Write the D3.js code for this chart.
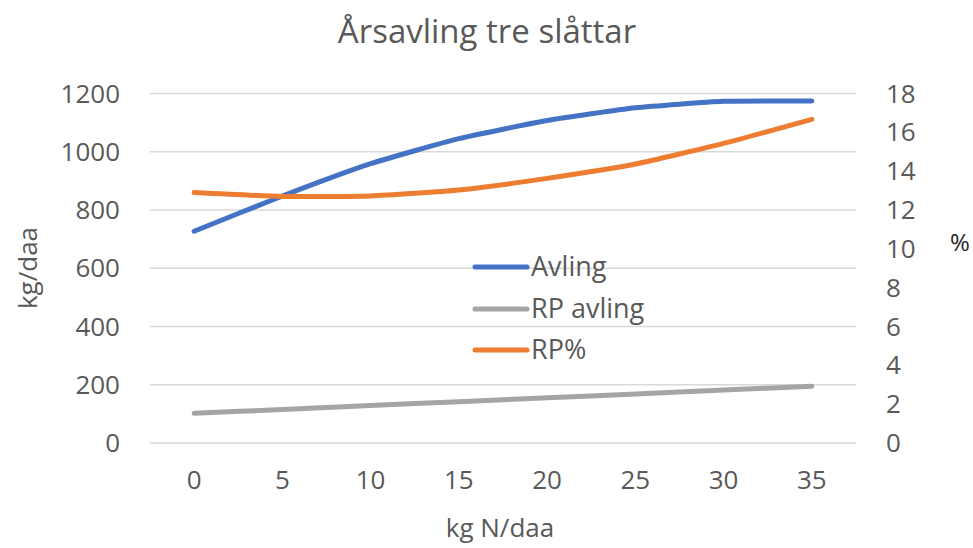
<!DOCTYPE html>
<html><head><meta charset="utf-8">
<script src="https://cdn.jsdelivr.net/npm/d3@7"></script>
<style>body{margin:0;background:#fff}svg{display:block}</style>
</head><body>
<script>
const categories = [0, 5, 10, 15, 20, 25, 30, 35];
const avling = [727, 848, 959, 1045, 1107, 1151, 1173, 1174];
const rpAvling = [102, 115, 129, 142, 155, 168, 182, 195];
const rpPct = [12.9, 12.7, 12.72, 13.03, 13.63, 14.37, 15.43, 16.67];
const leftTicks = [0, 200, 400, 600, 800, 1000, 1200];
const rightTicks = [0, 2, 4, 6, 8, 10, 12, 14, 16, 18];
const seriesNames = ["Avling", "RP avling", "RP%"];
const colors = ["#4472C4", "#A5A5A5", "#ED7D31"];

const W = 973, H = 548;
const font = "'Open Sans', sans-serif";
const txt = "#595959";
const svg = d3.select("body").append("svg").attr("width", W).attr("height", H);

const x = d3.scaleBand().domain(categories).range([150, 856]).padding(0);
const yL = d3.scaleLinear().domain([0, 1200]).range([443, 93.5]);
const yR = d3.scaleLinear().domain([0, 18]).range([443, 93.5]);

// gridlines
svg.append("g").selectAll("line").data(leftTicks).join("line")
  .attr("x1", 150).attr("x2", 856)
  .attr("y1", d => yL(d)).attr("y2", d => yL(d))
  .attr("stroke", "#D9D9D9").attr("stroke-width", 1.5);

// left tick labels
svg.append("g").selectAll("text").data(leftTicks).join("text")
  .attr("x", 120).attr("y", d => yL(d)).attr("dy", "0.35em")
  .attr("text-anchor", "end").attr("font-family", font).attr("font-size", 26)
  .attr("fill", txt).text(d => d);

// right tick labels
svg.append("g").selectAll("text").data(rightTicks).join("text")
  .attr("x", 886).attr("y", d => yR(d)).attr("dy", "0.35em")
  .attr("text-anchor", "start").attr("font-family", font).attr("font-size", 26)
  .attr("fill", txt).text(d => d);

// x tick labels
svg.append("g").selectAll("text").data(categories).join("text")
  .attr("x", d => x(d) + x.bandwidth() / 2).attr("y", 480).attr("dy", "0.35em")
  .attr("text-anchor", "middle").attr("font-family", font).attr("font-size", 26)
  .attr("fill", txt).text(d => d);

// title
svg.append("text").attr("x", 487).attr("y", 43).attr("text-anchor", "middle")
  .attr("font-family", font).attr("font-size", 33).attr("fill", txt)
  .text("Årsavling tre slåttar");

// axis titles
svg.append("text").attr("x", 500).attr("y", 528).attr("dy", "0.35em")
  .attr("text-anchor", "middle").attr("font-family", font).attr("font-size", 26)
  .attr("fill", txt).text("kg N/daa");
svg.append("text").attr("transform", "translate(28,268) rotate(-90)").attr("dy", "0.35em")
  .attr("text-anchor", "middle").attr("font-family", font).attr("font-size", 26)
  .attr("fill", txt).text("kg/daa");
svg.append("text").attr("x", 960).attr("y", 243).attr("dy", "0.35em")
  .attr("text-anchor", "middle").attr("font-family", font).attr("font-size", 24)
  .attr("fill", "#262626").text("%");

// lines
const cx = d => x(d) + x.bandwidth() / 2;
const series = [
  {vals: avling, y: yL},
  {vals: rpAvling, y: yL},
  {vals: rpPct, y: yR}
];
series.forEach((s, i) => {
  const line = d3.line().x((d, j) => cx(categories[j])).y(d => s.y(d))
    .curve(d3.curveCardinal.tension(0.5));
  svg.append("path").datum(s.vals).attr("d", line)
    .attr("fill", "none").attr("stroke", colors[i]).attr("stroke-width", 5)
    .attr("stroke-linecap", "round").attr("stroke-linejoin", "round");
});

// legend
const legY = [267, 309, 350];
const leg = svg.append("g").selectAll("g").data(seriesNames).join("g")
  .attr("transform", (d, i) => `translate(0,${legY[i]})`);
leg.append("line").attr("x1", 475).attr("x2", 527).attr("y1", 0).attr("y2", 0)
  .attr("stroke", (d, i) => colors[i]).attr("stroke-width", 5).attr("stroke-linecap", "round");
leg.append("text").attr("x", 531).attr("y", 0).attr("dy", "0.35em")
  .attr("font-family", font).attr("font-size", 27).attr("fill", txt).text(d => d);
</script>
</body></html>
